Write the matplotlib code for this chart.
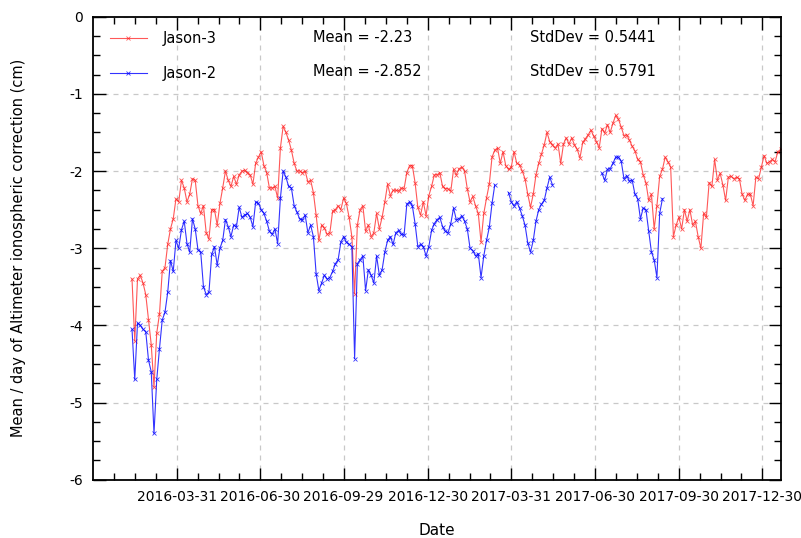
import numpy as np
import pandas as pd
import matplotlib
matplotlib.use('Agg')
import matplotlib.pyplot as plt
import matplotlib.dates as mdates
from matplotlib.ticker import FixedLocator, MultipleLocator

# daily means sampled every 3 days, starting 2016-02-11
start_date = '2016-02-11'
step = '3D'

jason3 = [
    -3.40, -4.20, -3.40, -3.35, -3.45, -3.60, -3.93, -4.25, -4.80, -4.10,
    -3.85, -3.30, -3.25, -2.95, -2.75, -2.62, -2.36, -2.40, -2.12, -2.22,
    -2.40, -2.30, -2.10, -2.12, -2.45, -2.55, -2.45, -2.80, -2.88, -2.50,
    -2.50, -2.70, -2.42, -2.22, -2.00, -2.12, -2.20, -2.07, -2.17, -2.05,
    -2.00, -1.99, -2.02, -2.05, -2.17, -1.90, -1.82, -1.75, -1.93, -2.02,
    -2.22, -2.22, -2.20, -2.35, -1.70, -1.42, -1.50, -1.60, -1.73, -1.90,
    -2.00, -2.00, -2.02, -2.00, -2.14, -2.12, -2.28, -2.57, -2.90, -2.70,
    -2.74, -2.82, -2.80, -2.52, -2.50, -2.45, -2.50, -2.35, -2.42, -2.60,
    -2.85, -3.59, -2.70, -2.50, -2.45, -2.78, -2.70, -2.85, -2.80, -2.55,
    -2.75, -2.60, -2.40, -2.17, -2.32, -2.25, -2.25, -2.26, -2.22, -2.23,
    -2.02, -1.93, -1.93, -2.15, -2.47, -2.57, -2.40, -2.58, -2.32, -2.20,
    -2.05, -2.05, -2.02, -2.20, -2.23, -2.23, -2.26, -1.98, -2.05, -1.97,
    -1.95, -2.00, -2.23, -2.40, -2.33, -2.45, -2.55, -2.92, -2.55, -2.35,
    -2.17, -1.82, -1.73, -1.70, -1.90, -1.75, -1.93, -1.98, -1.95, -1.75,
    -1.90, -1.92, -2.00, -2.10, -2.30, -2.47, -2.30, -2.05, -1.90, -1.78,
    -1.66, -1.50, -1.62, -1.66, -1.70, -1.65, -1.90, -1.65, -1.57, -1.65,
    -1.57, -1.66, -1.72, -1.83, -1.63, -1.58, -1.53, -1.47, -1.55, -1.62,
    -1.70, -1.45, -1.51, -1.40, -1.50, -1.38, -1.28, -1.33, -1.43, -1.54,
    -1.53, -1.60, -1.68, -1.74, -1.85, -1.88, -2.05, -2.15, -2.38, -2.30,
    -2.75, -2.45, -2.07, -1.98, -1.82, -1.88, -1.95, -2.85, -2.70, -2.60,
    -2.75, -2.50, -2.65, -2.50, -2.70, -2.65, -2.85, -3.00, -2.55, -2.60,
    -2.15, -2.20, -1.85, -2.12, -2.03, -2.18, -2.38, -2.08, -2.07, -2.10,
    -2.08, -2.10, -2.30, -2.38, -2.30, -2.30, -2.45, -2.08, -2.10, -1.95,
    -1.80, -1.90, -1.88, -1.85, -1.88, -1.75, -1.72,
]

nan = np.nan
jason2 = [
    -4.05, -4.70, -3.97, -4.00, -4.05, -4.08, -4.45, -4.60, -5.40, -4.70,
    -4.30, -3.93, -3.83, -3.57, -3.16, -3.30, -2.90, -3.00, -2.76, -2.65,
    -2.94, -3.05, -2.62, -2.75, -3.02, -3.05, -3.50, -3.60, -3.57, -3.08,
    -2.98, -3.22, -3.00, -2.90, -2.63, -2.72, -2.85, -2.70, -2.72, -2.47,
    -2.60, -2.57, -2.55, -2.60, -2.72, -2.40, -2.42, -2.50, -2.55, -2.65,
    -2.78, -2.82, -2.75, -2.94, -2.35, -2.00, -2.08, -2.20, -2.22, -2.45,
    -2.53, -2.62, -2.63, -2.57, -2.80, -2.70, -2.85, -3.33, -3.55, -3.45,
    -3.35, -3.40, -3.38, -3.30, -3.20, -3.15, -2.92, -2.85, -2.92, -2.95,
    -2.98, -4.43, -3.20, -3.15, -3.10, -3.55, -3.28, -3.35, -3.45, -3.10,
    -3.35, -3.28, -3.05, -2.90, -2.85, -2.95, -2.80, -2.77, -2.82, -2.83,
    -2.43, -2.40, -2.45, -2.68, -2.98, -2.95, -2.98, -3.10, -2.98, -2.77,
    -2.68, -2.63, -2.60, -2.72, -2.78, -2.80, -2.68, -2.48, -2.63, -2.62,
    -2.58, -2.65, -2.75, -3.00, -3.03, -3.10, -3.07, -3.38, -3.10, -2.90,
    -2.73, -2.42, -2.18, nan, nan, nan, nan, -2.28, -2.40, -2.45,
    -2.40, -2.48, -2.58, -2.70, -2.93, -3.05, -2.90, -2.65, -2.50, -2.43,
    -2.38, -2.22, -2.08, -2.18, nan, nan, nan, nan, nan, nan,
    nan, nan, nan, nan, nan, nan, nan, nan, nan, nan,
    nan, -2.03, -2.12, -1.98, -1.97, -1.90, -1.82, -1.82, -1.87, -2.10,
    -2.06, -2.13, -2.12, -2.30, -2.36, -2.62, -2.48, -2.50, -2.78, -3.05,
    -3.15, -3.38, -2.55, -2.36,
]

names = ['Jason-3', 'Jason-2']
mean_text = ['Mean = -2.23', 'Mean = -2.852']
std_text = ['StdDev = 0.5441', 'StdDev = 0.5791']

tick_dates = ['2016-03-31', '2016-06-30', '2016-09-29', '2016-12-30',
              '2017-03-31', '2017-06-30', '2017-09-30', '2017-12-30']

d3 = pd.date_range(start_date, periods=len(jason3), freq=step)
d2 = pd.date_range(start_date, periods=len(jason2), freq=step)

fig = plt.figure(figsize=(8.01, 5.38), dpi=100)
ax = fig.add_axes([0.1161, 0.1082, 0.975 - 0.1161, 0.9691 - 0.1082])

l3, = ax.plot(d3, jason3, color='#ff2020', lw=0.8, alpha=0.75,
              marker='x', ms=2.5, mew=0.6, label=names[0])
l2, = ax.plot(d2, jason2, color='#0000ff', lw=0.8, alpha=0.8,
              marker='x', ms=2.5, mew=0.6, label=names[1])

ax.set_ylim(-6, 0)
ax.set_xlim(pd.Timestamp('2015-12-30 10:00'), pd.Timestamp('2018-01-19 10:00'))

# ticks
major = mdates.date2num(pd.to_datetime(tick_dates))
minor = []
for a, b in zip(major[:-1], major[1:]):
    minor += list(np.linspace(a, b, 5)[1:-1])
gap = (major[1] - major[0]) / 4
minor += [major[0] - gap * k for k in range(1, 4)]
minor += [major[-1] + gap]
ax.xaxis.set_major_locator(FixedLocator(major))
ax.xaxis.set_minor_locator(FixedLocator(minor))
ax.xaxis.set_major_formatter(mdates.DateFormatter('%Y-%m-%d'))
ax.yaxis.set_major_locator(MultipleLocator(1))
ax.yaxis.set_minor_locator(MultipleLocator(0.25))
ax.set_yticklabels([f'{int(v)}' for v in ax.get_yticks()])

ax.tick_params(which='both', direction='in', top=True, right=True, width=1)
ax.tick_params(which='major', length=9, labelsize=10, pad=7)
ax.tick_params(which='minor', length=5)
for s in ax.spines.values():
    s.set_linewidth(1.3)

ax.grid(True, which='major', color='#c8c8c8', linestyle=(0, (4, 4)), linewidth=0.9)

ax.set_xlabel('Date', fontsize=11, labelpad=14)
ax.set_ylabel('Mean / day of Altimeter ionospheric correction (cm)', fontsize=10.5, labelpad=31)

leg = ax.legend(handles=[l3, l2], loc='upper left', bbox_to_anchor=(0.025, 0.969),
                frameon=False, fontsize=10.5, numpoints=1, handlelength=2.5,
                handletextpad=1.1, labelspacing=1.35, borderpad=0, borderaxespad=0)

for i in range(2):
    y = [0.9544, 0.881][i]
    ax.text(0.3198, y, mean_text[i], transform=ax.transAxes, fontsize=10.5, va='center')
    ax.text(0.6352, y, std_text[i], transform=ax.transAxes, fontsize=10.5, va='center')

fig.savefig('out.png', dpi=100)
